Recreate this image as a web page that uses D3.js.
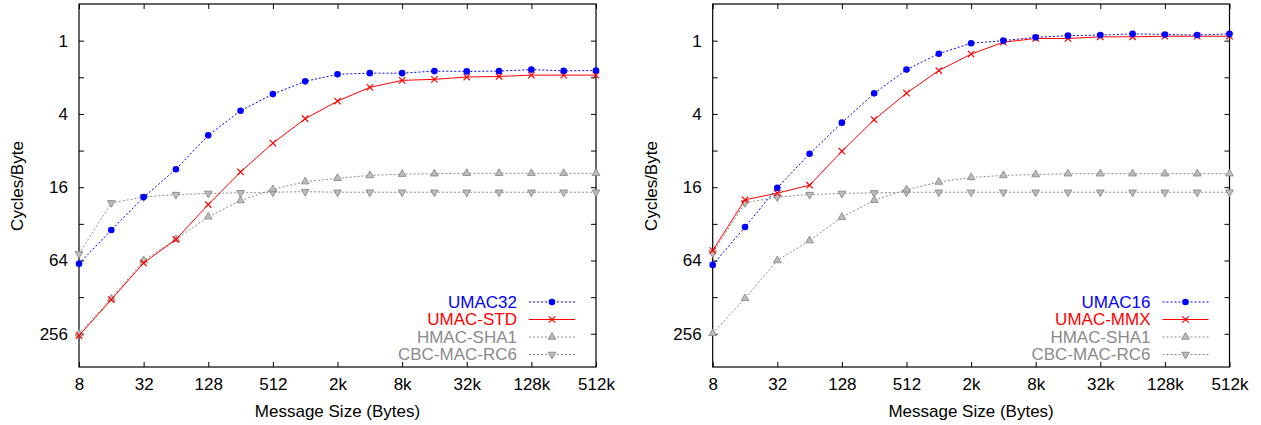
<!DOCTYPE html>
<html lang="en">
<head>
<meta charset="UTF-8">
<title>UMAC timings</title>
<script src="https://d3js.org/d3.v7.min.js"></script>
<style>
  body { margin: 0; background: #fff; }
  text { font-family: "Liberation Sans", Arial, sans-serif; }
</style>
</head>
<body>
<div id="chart"></div>
<script>
// message sizes in bytes, 8 .. 512k
const sizes = [8, 16, 32, 64, 128, 256, 512, 1024, 2048, 4096, 8192, 16384,
               32768, 65536, 131072, 262144, 524288];
const xTickValues = [8, 32, 128, 512, 2048, 8192, 32768, 131072, 524288];
const xTickLabels = ["8", "32", "128", "512", "2k", "8k", "32k", "128k", "512k"];
const yTickValues = [1, 2, 4, 8, 16, 32, 64, 128, 256];
const yTickLabels = ["1", "", "4", "", "16", "", "64", "", "256"];

// left panel
const umac32 = [68, 36, 19.3, 11.4, 6.0, 3.77, 2.75, 2.16, 1.89, 1.85, 1.85, 1.78,
                1.79, 1.78, 1.73, 1.77, 1.76];
const umacStd = [265, 134, 67, 43, 22.2, 12.0, 6.95, 4.38, 3.14, 2.42, 2.12, 2.08,
                 1.99, 1.97, 1.92, 1.92, 1.92];
const hmacLeft = [256, 132, 64, 43, 28, 20.6, 16.7, 14.4, 13.5, 12.8, 12.5, 12.4,
                  12.3, 12.3, 12.3, 12.3, 12.3];
const cbcLeft = [56.5, 21.5, 19.3, 18.4, 18.0, 17.8, 17.6, 17.4, 17.6, 17.6, 17.6, 17.6,
                 17.6, 17.6, 17.6, 17.6, 17.6];

// right panel
const umac16 = [69.6, 34, 16.2, 8.5, 4.72, 2.71, 1.73, 1.28, 1.05, 1.0, 0.94, 0.91,
                0.90, 0.88, 0.89, 0.90, 0.88];
const umacMmx = [53, 20.3, 17.9, 15.4, 8.1, 4.46, 2.70, 1.76, 1.29, 1.03, 0.96, 0.96,
                 0.93, 0.93, 0.92, 0.92, 0.92];
const hmacRight = [254, 131, 64, 43.9, 28.2, 20.5, 16.8, 14.5, 13.3, 12.8, 12.6, 12.4,
                   12.4, 12.4, 12.4, 12.4, 12.4];
const cbcRight = [55.5, 21.5, 19.3, 18.4, 18.0, 17.8, 17.6, 17.6, 17.6, 17.6, 17.6, 17.6,
                  17.6, 17.6, 17.6, 17.6, 17.6];

const svg = d3.select("#chart").append("svg")
    .attr("width", 1261)
    .attr("height", 425);

const fontSize = 17;

const styles = {
    blue: { color: "#0000ff", dash: "2,2", marker: "circle", text: "#0000ff" },
    red:  { color: "#ff0000", dash: null,  marker: "cross",  text: "#ff0000" },
    up:   { color: "#8a8a8a", dash: "2,2", marker: "up",     text: "#8a8a8a" },
    down: { color: "#8a8a8a", dash: "2,2", marker: "down",   text: "#8a8a8a" }
};

function drawMarker(g, type, cx, cy, color) {
    if (type === "circle") {
        g.append("circle").attr("cx", cx).attr("cy", cy).attr("r", 3.3).attr("fill", color);
    } else if (type === "cross") {
        const s = 3.2;
        g.append("path")
            .attr("d", `M${cx - s},${cy - s}L${cx + s},${cy + s}M${cx - s},${cy + s}L${cx + s},${cy - s}`)
            .attr("stroke", color).attr("stroke-width", 1.2).attr("fill", "none");
    } else {
        g.append("path")
            .attr("d", d3.symbol(d3.symbolTriangle, 26)())
            .attr("transform", `translate(${cx},${cy})` + (type === "down" ? " rotate(180)" : ""))
            .attr("fill", "#bcbcbc").attr("stroke", color).attr("stroke-width", 0.9);
    }
}

function drawPanel(left, right, series) {
    const top = 4, bottom = 367;
    const x = d3.scaleLog().base(2).domain([8, 524288]).range([left, right]);
    const y = d3.scaleLog().base(2).domain([0.5, 480]).range([top, bottom]);
    const g = svg.append("g");

    // axes with inward ticks
    const xAxis = g.append("g").attr("transform", `translate(0,${bottom})`)
        .call(d3.axisBottom(x).tickValues(xTickValues)
            .tickFormat((d, i) => xTickLabels[i]).tickSizeInner(-5).tickSizeOuter(0).tickPadding(11));
    const xTop = g.append("g").attr("transform", `translate(0,${top})`)
        .call(d3.axisTop(x).tickValues(xTickValues).tickFormat("").tickSizeInner(-5).tickSizeOuter(0));
    const yAxis = g.append("g").attr("transform", `translate(${left},0)`)
        .call(d3.axisLeft(y).tickValues(yTickValues)
            .tickFormat((d, i) => yTickLabels[i]).tickSizeInner(-5).tickSizeOuter(0).tickPadding(11));
    const yRight = g.append("g").attr("transform", `translate(${right},0)`)
        .call(d3.axisRight(y).tickValues(yTickValues).tickFormat("").tickSizeInner(-5).tickSizeOuter(0));
    [xAxis, xTop, yAxis, yRight].forEach(a => {
        a.select(".domain").remove();
        a.selectAll("text").attr("font-size", fontSize).attr("fill", "#000")
            .style("font-family", "'Liberation Sans', Arial, sans-serif");
    });

    g.append("rect")
        .attr("x", left).attr("y", top)
        .attr("width", right - left).attr("height", bottom - top)
        .attr("fill", "none").attr("stroke", "#000").attr("stroke-width", 1.2);

    // titles
    g.append("text")
        .attr("x", (left + right) / 2).attr("y", 417)
        .attr("text-anchor", "middle").attr("font-size", fontSize)
        .text("Message Size (Bytes)");
    g.append("text")
        .attr("transform", `translate(${left - 56},186) rotate(-90)`)
        .attr("text-anchor", "middle").attr("font-size", fontSize)
        .text("Cycles/Byte");

    const line = d3.line().x((d, i) => x(sizes[i])).y(d => y(d));

    // draw grey series first so coloured ones are on top
    series.slice().reverse().forEach(s => {
        const st = styles[s.style];
        g.append("path")
            .datum(s.values)
            .attr("d", line)
            .attr("fill", "none")
            .attr("stroke", st.color)
            .attr("stroke-width", 1)
            .attr("stroke-dasharray", st.dash);
        s.values.forEach((v, i) => drawMarker(g, st.marker, x(sizes[i]), y(v), st.color));
    });

    // legend
    const textEnd = right - 79, lineStart = right - 67, lineEnd = right - 21;
    series.forEach((s, k) => {
        const st = styles[s.style];
        const ly = 302 + k * 17.5;
        g.append("text")
            .attr("x", textEnd).attr("y", ly).attr("dy", "0.35em")
            .attr("text-anchor", "end").attr("font-size", fontSize)
            .attr("fill", st.text)
            .text(s.name);
        g.append("line")
            .attr("x1", lineStart).attr("x2", lineEnd)
            .attr("y1", ly).attr("y2", ly)
            .attr("stroke", st.color).attr("stroke-width", 1)
            .attr("stroke-dasharray", st.dash);
        drawMarker(g, st.marker, (lineStart + lineEnd) / 2, ly, st.color);
    });
}

drawPanel(79, 596, [
    { name: "UMAC32", style: "blue", values: umac32 },
    { name: "UMAC-STD", style: "red", values: umacStd },
    { name: "HMAC-SHA1", style: "up", values: hmacLeft },
    { name: "CBC-MAC-RC6", style: "down", values: cbcLeft }
]);

drawPanel(712.7, 1229.5, [
    { name: "UMAC16", style: "blue", values: umac16 },
    { name: "UMAC-MMX", style: "red", values: umacMmx },
    { name: "HMAC-SHA1", style: "up", values: hmacRight },
    { name: "CBC-MAC-RC6", style: "down", values: cbcRight }
]);
</script>
</body>
</html>
